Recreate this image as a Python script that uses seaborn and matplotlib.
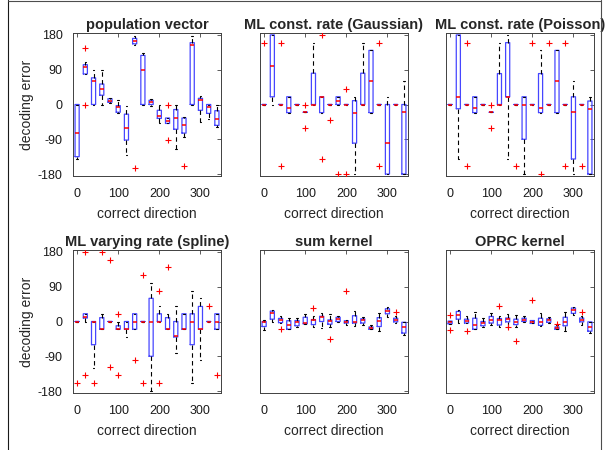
import numpy as np
import pandas as pd
import matplotlib
matplotlib.use("Agg")
import matplotlib.pyplot as plt
from matplotlib.lines import Line2D
import seaborn as sns

DIRECTIONS = list(range(0, 360, 20))
XTICKS = [0, 100, 200, 300]
YTICKS = [-180, -90, 0, 90, 180]
YTICKLABELS = ["-180", "-90", "0", "90", "180"]
TITLES = ["population vector", "ML const. rate (Gaussian)", "ML const. rate (Poisson)",
          "ML varying rate (spline)", "sum kernel", "OPRC kernel"]

# ---- population vector
PV_LO = [-141, 79, 0, 0, 4, -23, -131, 154, 0, -3, -47, -49, -116, -83, 0, -44, -37, -59]
PV_Q1 = [-135, 79, 0, 24, 6, -20, -92, 157, 0, 0, -36, -49, -64, -74, 0, -15, -23, -54]
PV_MED = [-75, 96, 60, 40, 10, -7, -62, 165, 90, 6, -30, -42, -35, -54, 154, 11, -7, -38]
PV_Q3 = [0, 103, 69, 53, 15, -3, -25, 171, 127, 11, -15, -35, -13, -35, 160, 16, 0, -16]
PV_HI = [0, 109, 90, 90, 16, 11, -3, 177, 134, 15, 0, -35, 0, -32, 176, 23, 0, 0]
PV_OUT_X = [20, 20, 140, 220, 220, 260]
PV_OUT_Y = [147, 0, -164, 0, -92, -159]

# ---- ML const. rate (Gaussian)
GA_LO = [0, 0, 0, -21, 0, -20, 0, -21, 0, 0, 0, -180, 0, -21, 0, -180, 0, -180]
GA_Q1 = [0, 20, 0, -21, 0, -20, 0, -21, 0, 0, 0, -100, 0, -21, 0, -180, 0, -180]
GA_MED = [0, 99, 0, -10, 0, -20, 0, 20, 0, 9, 0, -21, 0, 60, 0, -100, 0, -20]
GA_Q3 = [0, 180, 0, 20, 0, -20, 81, 20, 0, 20, 0, 10, 81, 140, 0, 0, 0, 0]
GA_HI = [0, 180, 0, 20, 0, -20, 160, 20, 0, 20, 0, 20, 160, 140, 0, 20, 0, 60]
GA_OUT_X = [0, 40, 40, 100, 100, 140, 140, 160, 180, 200, 200, 280, 280]
GA_OUT_Y = [159, 159, -159, 0, -60, 180, -141, -39, -180, 40, -180, 159, -159]

# ---- ML const. rate (Poisson)
PO_LO = [0, -141, 0, -21, 0, -20, 0, -141, 0, -180, 0, -21, 0, -21, 0, -180, 0, -180]
PO_Q1 = [0, -11, 0, -21, 0, -20, 0, 20, 0, -90, 0, -21, 0, -21, 0, -141, 0, -180]
PO_MED = [0, 20, 0, -10, 0, -20, 0, 20, 0, 0, 0, -10, 0, 60, 0, -20, 0, -11]
PO_Q3 = [0, 180, 0, 20, 0, -20, 80, 160, 0, 20, 0, 80, 0, 140, 0, 20, 0, 9]
PO_HI = [0, 180, 0, 20, 0, -20, 160, 180, 0, 20, 0, 140, 0, 140, 0, 60, 0, 20]
PO_OUT_X = [40, 40, 100, 100, 160, 200, 220, 240, 280, 280, 320]
PO_OUT_Y = [159, -159, 0, -60, -159, 159, -180, 159, 159, -159, -159]

# ---- ML varying rate (spline)
SP_LO = [0, 0, -120, -20, 0, -20, -40, -20, 0, -180, 0, -20, -81, -20, -160, -99, 0, -20]
SP_Q1 = [0, 9, -60, -20, 0, -20, -20, -20, 0, -90, 0, -20, -40, -20, -60, -20, 0, -20]
SP_MED = [0, 11, 0, -20, 0, -20, -20, 0, 0, 0, 0, -20, -37, -20, 0, -20, 0, 0]
SP_Q3 = [0, 20, 0, 10, 0, -11, 0, 20, 0, 60, 20, 10, 0, 20, 20, 39, 0, 20]
SP_HI = [0, 20, 0, 20, 0, 0, 0, 20, 0, 100, 40, 20, 39, 20, 80, 60, 0, 20]
SP_OUT_X = [0, 20, 20, 40, 60, 80, 80, 100, 100, 140, 160, 160, 200, 200, 220, 320, 340]
SP_OUT_Y = [-160, 179, -139, -160, 179, 160, -117, 20, -139, -99, 120, -160, 80, -160, 140, 40, -139]

# ---- sum kernel
SK_LO = [-23, -2, -4, -20, -13, -7, -13, -18, -13, 0, -8, -11, -8, -20, -25, 11, -4, -34]
SK_Q1 = [-13, 6, -3, -20, -11, -6, -8, 0, -7, 0, -4, -4, -4, -20, -13, 20, -1, -30]
SK_MED = [-2, 21, 4, -8, -2.5, -3, 4, 11, 2.5, 6, 0, 0, 3, -17, 2, 28, 4, -15]
SK_Q3 = [0, 27, 8, 2, 2.5, 11, 5, 13.5, 4, 11, 2, 15, 7, -14, 10, 33, 8.5, -2]
SK_HI = [4, 31, 13, 8, 8, 19, 13.5, 23, 19.5, 14, 4, 26, 11, -8, 23, 36.5, 13, 0]
SK_OUT_X = [40, 120, 160, 200, 320]
SK_OUT_Y = [-19, 35, -45, 79, 24]

# ---- OPRC kernel
OK_LO = [-6, -4, -4, -20, -13, -8, -13, -13, -13, 0, -5, -12, -4, -20, -25, 17, -8, -31]
OK_Q1 = [-6, 6, -4, -20, -11, -4, -9, -1, -8, 0, -5, -10, -2, -20, -11, 21, -1, -25]
OK_MED = [-2, 16, 2, -10, -4, 4, 4, 6, 0, 5, -2, -2, 3, -18, 0, 30, 4, -13]
OK_Q3 = [1, 26, 6, 8.5, 0, 13, 7.6, 9, 6, 8.5, 2.5, 8.5, 7, -14, 11, 35, 9, -1]
OK_HI = [1, 30, 13, 25, 8, 21, 13, 19, 17, 13, 2.5, 23, 11, -10, 24, 38, 13, 0]
OK_OUT_X = [0, 0, 40, 120, 140, 160, 200, 260, 320]
OK_OUT_Y = [16, -23, -24, 40, -15, -51, 55, -7, 25]

PANELS = [
    (PV_LO, PV_Q1, PV_MED, PV_Q3, PV_HI, PV_OUT_X, PV_OUT_Y),
    (GA_LO, GA_Q1, GA_MED, GA_Q3, GA_HI, GA_OUT_X, GA_OUT_Y),
    (PO_LO, PO_Q1, PO_MED, PO_Q3, PO_HI, PO_OUT_X, PO_OUT_Y),
    (SP_LO, SP_Q1, SP_MED, SP_Q3, SP_HI, SP_OUT_X, SP_OUT_Y),
    (SK_LO, SK_Q1, SK_MED, SK_Q3, SK_HI, SK_OUT_X, SK_OUT_Y),
    (OK_LO, OK_Q1, OK_MED, OK_Q3, OK_HI, OK_OUT_X, OK_OUT_Y),
]

sns.set_style("white", {"axes.edgecolor": "0.25"})
plt.rcParams["font.family"] = ["Liberation Sans", "DejaVu Sans"]

W, H = 605, 450
fig = plt.figure(figsize=(W / 100, H / 100), dpi=100)

col_left = [73, 260, 446]
row_top = [33, 250]
ax_w, ax_h = 148, 143

for k, (lo, q1, med, q3, hi, ox, oy) in enumerate(PANELS):
    r, c = divmod(k, 3)
    ax = fig.add_axes([col_left[c] / W, 1 - (row_top[r] + ax_h) / H, ax_w / W, ax_h / H])
    xs = np.repeat(DIRECTIONS, 5)
    ys = np.column_stack([lo, q1, med, q3, hi]).ravel()
    df = pd.DataFrame({"dir": xs, "err": ys})
    sns.boxplot(data=df, x="dir", y="err", native_scale=True, whis=np.inf,
                fill=False, color="#4646ff", width=0.5, linewidth=0.9, showfliers=False,
                boxprops=dict(color="#4646ff", snap=False),
                medianprops=dict(color="red", linewidth=1.1),
                whiskerprops=dict(color="black", linestyle=(0, (4, 3)), linewidth=0.8),
                capprops=dict(color="black", linewidth=0.8),
                capwidths=4, ax=ax)
    sns.scatterplot(x=ox, y=oy, marker="+", color="red", s=22, linewidth=0.8,
                    ax=ax, zorder=4, legend=False)
    ax.set_xlim(-10, 350)
    ax.set_ylim(-185, 185)
    ax.set_xticks(XTICKS)
    ax.set_xticklabels([str(t) for t in XTICKS])
    ax.set_yticks(YTICKS)
    if c == 0:
        ax.set_yticklabels(YTICKLABELS)
        ax.set_ylabel("decoding error", fontsize=10, labelpad=3)
    else:
        ax.set_yticklabels([])
        ax.set_ylabel("")
    ax.set_xlabel("correct direction", fontsize=10, labelpad=5)
    ax.set_title(TITLES[k], fontsize=10.5, fontweight="bold", pad=3)
    ax.tick_params(direction="in", top=True, right=True, length=3, width=0.6,
                   labelsize=9, colors="0.25", labelcolor="0.1")
    ax.tick_params(axis="x", pad=8.5)
    ax.tick_params(axis="y", pad=7.5)
    for s in ax.spines.values():
        s.set_linewidth(0.7)
        s.set_visible(True)

fig.add_artist(Line2D([7.5 / W, 7.5 / W], [0, 1], color="0.1", linewidth=0.8))
fig.add_artist(Line2D([600.5 / W, 600.5 / W], [0, 1], color="0.3", linewidth=0.8))
fig.add_artist(Line2D([7.5 / W, 600.5 / W], [1 - 0.5 / H, 1 - 0.5 / H], color="0.3", linewidth=0.8))

fig.savefig("out.png", dpi=100)
